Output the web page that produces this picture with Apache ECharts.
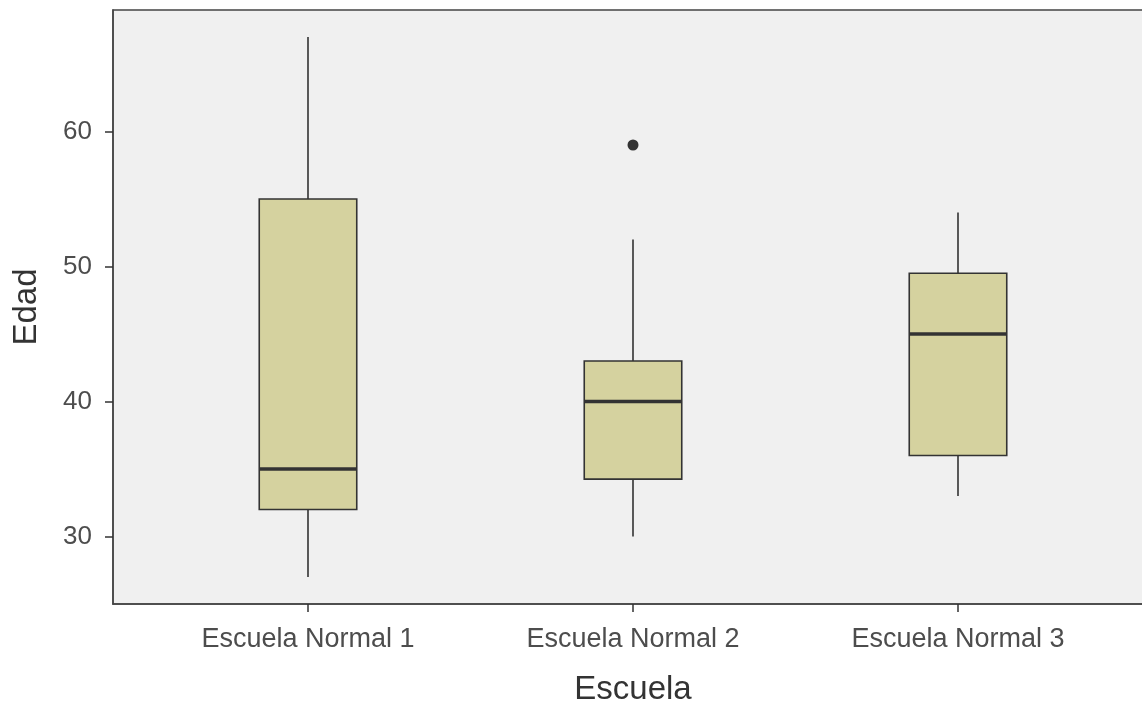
<!DOCTYPE html>
<html>
<head>
<meta charset="utf-8">
<script src="https://cdn.jsdelivr.net/npm/echarts@6/dist/echarts.min.js"></script>
<style>
html,body{margin:0;padding:0;background:#fff;}
#chart{width:1142px;height:702px;}
</style>
</head>
<body>
<div id="chart"></div>
<script>
const categories = ['Escuela Normal 1', 'Escuela Normal 2', 'Escuela Normal 3'];
const positions = [1, 2, 3];
const mins = [27, 30, 33];
const q1s = [32, 34.25, 36];
const medians = [35, 40, 45];
const q3s = [55, 43, 49.5];
const maxs = [67, 52, 54];
const outliers = [[2, 59]];
const yTicks = [30, 40, 50, 60];

const boxData = positions.map((p, i) => [p, mins[i], q1s[i], medians[i], q3s[i], maxs[i]]);

const lineColor = '#333333';
const fillColor = '#D5D29F';
const font = 'Liberation Sans, Arial, sans-serif';

function renderBox(params, api) {
  const x = api.value(0);
  const vMin = api.value(1), vQ1 = api.value(2), vMed = api.value(3), vQ3 = api.value(4), vMax = api.value(5);
  const halfW = api.size([0.3, 0])[0] / 2;
  const pMin = api.coord([x, vMin]);
  const pQ1 = api.coord([x, vQ1]);
  const pMed = api.coord([x, vMed]);
  const pQ3 = api.coord([x, vQ3]);
  const pMax = api.coord([x, vMax]);
  const cx = pMin[0];
  return {
    type: 'group',
    children: [
      { type: 'line', shape: { x1: cx, y1: pMax[1], x2: cx, y2: pQ3[1] }, style: { stroke: lineColor, lineWidth: 1.6 } },
      { type: 'line', shape: { x1: cx, y1: pQ1[1], x2: cx, y2: pMin[1] }, style: { stroke: lineColor, lineWidth: 1.6 } },
      { type: 'rect', shape: { x: cx - halfW, y: pQ3[1], width: halfW * 2, height: pQ1[1] - pQ3[1] }, style: { fill: fillColor, stroke: lineColor, lineWidth: 1.6 } },
      { type: 'line', shape: { x1: cx - halfW, y1: pMed[1], x2: cx + halfW, y2: pMed[1] }, style: { stroke: lineColor, lineWidth: 3.5 } }
    ]
  };
}

const chart = echarts.init(document.getElementById('chart'));
chart.setOption({
  animation: false,
  backgroundColor: '#ffffff',
  grid: {
    left: 113, top: 10, width: 1040, height: 594,
    outerBoundsMode: 'none', containLabel: false,
    show: true, backgroundColor: '#F0F0F0', borderColor: '#444444', borderWidth: 1.5
  },
  xAxis: {
    type: 'value', min: 0.4, max: 3.6,
    name: 'Escuela', nameLocation: 'middle', nameGap: 69,
    nameTextStyle: { fontSize: 33, color: '#333333', fontFamily: font },
    splitLine: { show: false },
    axisLine: { show: true, onZero: false, lineStyle: { color: '#444444', width: 1.5 } },
    axisTick: { show: true, customValues: positions, length: 8, lineStyle: { color: '#333333', width: 1.5 } },
    axisLabel: {
      customValues: positions, margin: 22, fontSize: 27, color: '#4D4D4D', fontFamily: font,
      formatter: v => categories[Math.round(v) - 1] || ''
    }
  },
  yAxis: {
    type: 'value', min: 25, max: 69,
    name: 'Edad', nameLocation: 'middle', nameGap: 70, nameRotate: 90,
    nameTextStyle: { fontSize: 33, color: '#333333', fontFamily: font },
    splitLine: { show: false },
    axisLine: { show: true, onZero: false, lineStyle: { color: '#444444', width: 1.5 } },
    axisTick: { show: true, customValues: yTicks, length: 8, lineStyle: { color: '#333333', width: 1.5 } },
    axisLabel: { customValues: yTicks, margin: 21, fontSize: 26, color: '#4D4D4D', fontFamily: font }
  },
  series: [
    {
      type: 'custom',
      renderItem: renderBox,
      data: boxData,
      encode: { x: 0, y: [1, 2, 3, 4, 5] },
      clip: false
    },
    {
      type: 'scatter',
      data: outliers,
      symbol: 'circle',
      symbolSize: 11,
      itemStyle: { color: '#333333', opacity: 1 }
    }
  ]
});
</script>
</body>
</html>
